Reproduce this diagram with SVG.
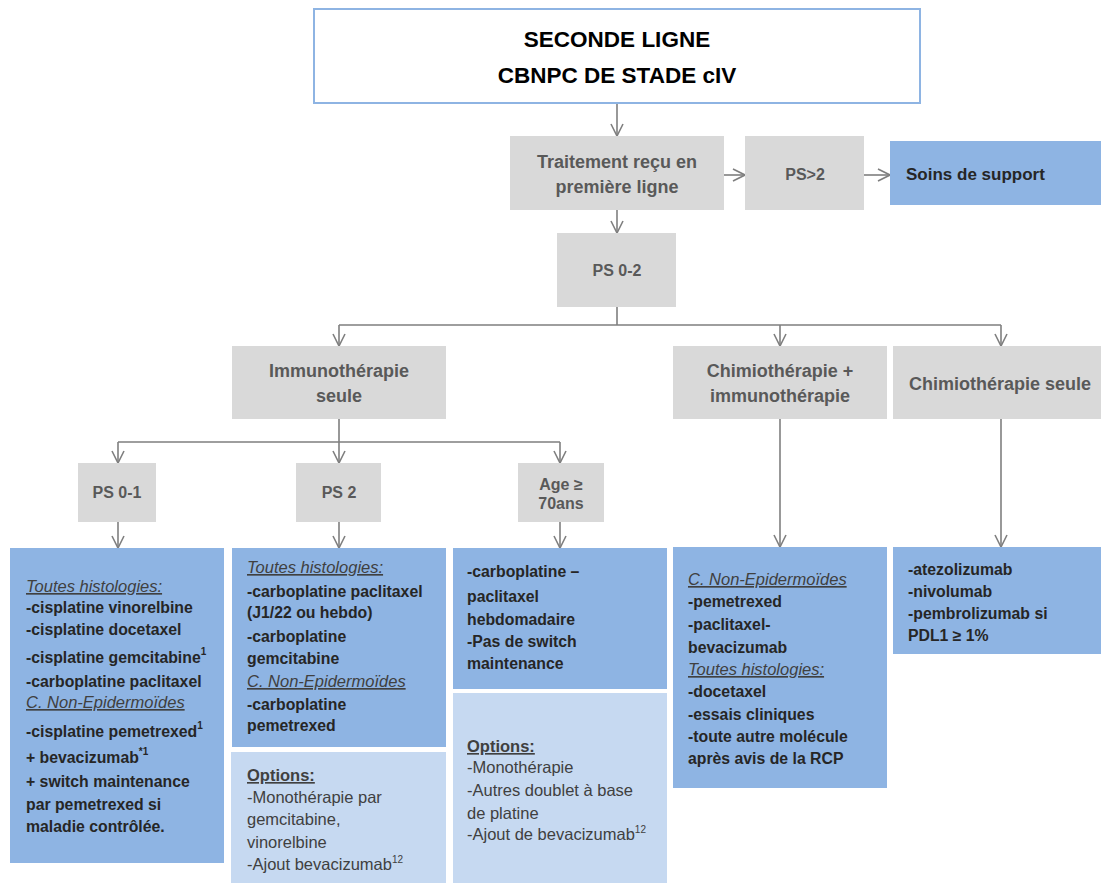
<svg xmlns="http://www.w3.org/2000/svg" width="1101" height="883" viewBox="0 0 1101 883">
<defs>
<marker id="arr" viewBox="0 0 14 14" refX="13" refY="7" markerWidth="14" markerHeight="14" markerUnits="userSpaceOnUse" orient="auto">
<path d="M1,1 L13,7 L1,13" fill="none" stroke="#7F7F7F" stroke-width="1.6"/>
</marker>
<style>
text{font-family:"Liberation Sans",Arial,sans-serif}
.gray{fill:#D9D9D9}
.blue{fill:#8EB4E3}
.light{fill:#C6D9F1}
.gt{font-size:18px;font-weight:bold;fill:#595959;text-anchor:middle}
.ps{font-size:16px;font-weight:bold;fill:#595959;text-anchor:middle}
.b{font-size:15.8px;font-weight:bold;fill:#262626}
.hd{font-size:16.5px;font-style:italic;fill:#404040;text-decoration:underline}
.op{font-size:16.5px;fill:#404040}
.oph{font-size:16.5px;font-weight:bold;fill:#404040;text-decoration:underline}
.sup{font-size:10px}
.con{fill:none;stroke:#7F7F7F;stroke-width:1.6}
</style>
</defs>
<rect width="1101" height="883" fill="#FFFFFF"/>

<g id="connectors">
<path class="con" d="M617,104 V136" marker-end="url(#arr)"/>
<path class="con" d="M724,175 H745" marker-end="url(#arr)"/>
<path class="con" d="M864,175 H890" marker-end="url(#arr)"/>
<path class="con" d="M617,210 V233" marker-end="url(#arr)"/>
<path class="con" d="M617,307 V325 M339,325 H1001"/>
<path class="con" d="M339,325 V346" marker-end="url(#arr)"/>
<path class="con" d="M780,325 V346" marker-end="url(#arr)"/>
<path class="con" d="M1001,325 V346" marker-end="url(#arr)"/>
<path class="con" d="M339,419 V442 M118,442 H560"/>
<path class="con" d="M118,442 V463" marker-end="url(#arr)"/>
<path class="con" d="M339,442 V463" marker-end="url(#arr)"/>
<path class="con" d="M560,442 V463" marker-end="url(#arr)"/>
<path class="con" d="M118,522 V548" marker-end="url(#arr)"/>
<path class="con" d="M339,522 V548" marker-end="url(#arr)"/>
<path class="con" d="M560,522 V548" marker-end="url(#arr)"/>
<path class="con" d="M780,419 V547" marker-end="url(#arr)"/>
<path class="con" d="M1001,419 V547" marker-end="url(#arr)"/>
</g>

<g id="title">
<rect x="314" y="9" width="606" height="94" fill="#FFFFFF" stroke="#8EB4E3" stroke-width="2"/>
<text x="617" y="47" text-anchor="middle" font-size="22.5" font-weight="bold" fill="#000">SECONDE LIGNE</text>
<text x="617" y="83" text-anchor="middle" font-size="22.5" font-weight="bold" fill="#000">CBNPC DE STADE cIV</text>
</g>

<g id="traitement">
<rect class="gray" x="510" y="136" width="214" height="74"/>
<text class="gt" x="617" y="168">Traitement reçu en</text>
<text class="gt" x="617" y="193">première ligne</text>
</g>

<g id="ps-sup2">
<rect class="gray" x="745" y="136" width="119" height="74"/>
<text class="ps" x="805" y="180">PS&gt;2</text>
</g>

<g id="soins">
<rect class="blue" x="890" y="141" width="211" height="64"/>
<text x="906" y="180" font-size="17" font-weight="bold" fill="#262626">Soins de support</text>
</g>

<g id="ps02">
<rect class="gray" x="557" y="233" width="119" height="74"/>
<text class="ps" x="617" y="276">PS 0-2</text>
</g>

<g id="immuno">
<rect class="gray" x="232" y="346" width="214" height="73"/>
<text class="gt" x="339" y="377">Immunothérapie</text>
<text class="gt" x="339" y="402">seule</text>
</g>

<g id="chimio-immuno">
<rect class="gray" x="673" y="346" width="214" height="73"/>
<text class="gt" x="780" y="377">Chimiothérapie +</text>
<text class="gt" x="780" y="402">immunothérapie</text>
</g>

<g id="chimio-seule">
<rect class="gray" x="893" y="346" width="208" height="73"/>
<text class="gt" x="1000" y="390">Chimiothérapie seule</text>
</g>

<g id="ps01">
<rect class="gray" x="78" y="463" width="78" height="59"/>
<text class="ps" x="117" y="498">PS 0-1</text>
</g>

<g id="ps2">
<rect class="gray" x="296" y="463" width="85" height="59"/>
<text class="ps" x="339" y="498">PS 2</text>
</g>

<g id="age">
<rect class="gray" x="518" y="463" width="86" height="59"/>
<text class="ps" x="561" y="490">Age ≥</text>
<text class="ps" x="561" y="509">70ans</text>
</g>

<g id="box-ps01">
<rect class="blue" x="10" y="548" width="214" height="315"/>
<text class="hd" x="26" y="592">Toutes histologies:</text>
<text class="b" x="26" y="613">-cisplatine vinorelbine</text>
<text class="b" x="26" y="635">-cisplatine docetaxel</text>
<text class="b" x="26" y="663">-cisplatine gemcitabine<tspan class="sup" dy="-8">1</tspan></text>
<text class="b" x="26" y="687">-carboplatine paclitaxel</text>
<text class="hd" x="26" y="708">C. Non-Epidermoïdes</text>
<text class="b" x="26" y="737">-cisplatine pemetrexed<tspan class="sup" dy="-8">1</tspan></text>
<text class="b" x="26" y="763">+ bevacizumab<tspan class="sup" dy="-8">*1</tspan></text>
<text class="b" x="26" y="787">+ switch maintenance</text>
<text class="b" x="26" y="810">par pemetrexed si</text>
<text class="b" x="26" y="832">maladie contrôlée.</text>
</g>

<g id="box-ps2">
<rect class="blue" x="232" y="548" width="214" height="199"/>
<text class="hd" x="247" y="573">Toutes histologies:</text>
<text class="b" x="247" y="597">-carboplatine paclitaxel</text>
<text class="b" x="247" y="618">(J1/22 ou hebdo)</text>
<text class="b" x="247" y="642">-carboplatine</text>
<text class="b" x="247" y="664">gemcitabine</text>
<text class="hd" x="247" y="687">C. Non-Epidermoïdes</text>
<text class="b" x="247" y="710">-carboplatine</text>
<text class="b" x="247" y="731">pemetrexed</text>
</g>

<g id="options-ps2">
<rect class="light" x="231" y="752" width="215" height="131"/>
<text class="oph" x="247" y="781">Options:</text>
<text class="op" x="247" y="803">-Monothérapie par</text>
<text class="op" x="247" y="825">gemcitabine,</text>
<text class="op" x="247" y="848">vinorelbine</text>
<text class="op" x="247" y="870">-Ajout bevacizumab<tspan class="sup" dy="-7">12</tspan></text>
</g>

<g id="box-age">
<rect class="blue" x="453" y="548" width="214" height="141"/>
<text class="b" x="467" y="577">-carboplatine –</text>
<text class="b" x="467" y="602">paclitaxel</text>
<text class="b" x="467" y="625">hebdomadaire</text>
<text class="b" x="467" y="647">-Pas de switch</text>
<text class="b" x="467" y="669">maintenance</text>
</g>

<g id="options-age">
<rect class="light" x="453" y="693" width="214" height="190"/>
<text class="oph" x="467" y="752">Options:</text>
<text class="op" x="467" y="773">-Monothérapie</text>
<text class="op" x="467" y="796">-Autres doublet à base</text>
<text class="op" x="467" y="819">de platine</text>
<text class="op" x="467" y="840">-Ajout de bevacizumab<tspan class="sup" dy="-7">12</tspan></text>
</g>

<g id="box-chimio-immuno">
<rect class="blue" x="673" y="547" width="214" height="241"/>
<text class="hd" x="688" y="585">C. Non-Epidermoïdes</text>
<text class="b" x="688" y="607">-pemetrexed</text>
<text class="b" x="688" y="630">-paclitaxel-</text>
<text class="b" x="688" y="653">bevacizumab</text>
<text class="hd" x="688" y="675">Toutes histologies:</text>
<text class="b" x="688" y="697">-docetaxel</text>
<text class="b" x="688" y="720">-essais cliniques</text>
<text class="b" x="688" y="742">-toute autre molécule</text>
<text class="b" x="688" y="764">après avis de la RCP</text>
</g>

<g id="box-chimio-seule">
<rect class="blue" x="893" y="547" width="208" height="107"/>
<text class="b" x="908" y="575">-atezolizumab</text>
<text class="b" x="908" y="597">-nivolumab</text>
<text class="b" x="908" y="619">-pembrolizumab si</text>
<text class="b" x="908" y="641">PDL1 ≥ 1%</text>
</g>
</svg>
